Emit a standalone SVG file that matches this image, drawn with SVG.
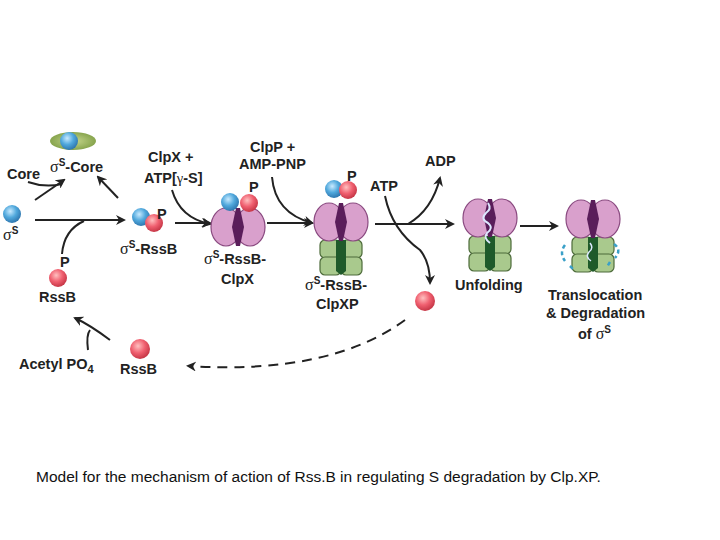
<svg xmlns="http://www.w3.org/2000/svg" width="720" height="540" viewBox="0 0 720 540">
<style>
.t{font-family:"Liberation Sans",Arial,sans-serif;font-weight:bold;font-size:14.5px;fill:#222}
.g{font-family:"Liberation Serif","DejaVu Serif",serif;font-weight:normal}
.ln{fill:none;stroke:#222;stroke-width:2}
.pink{fill:#d9a0cc;stroke:#8a4a80;stroke-width:1.2}
.green{fill:#a9c98d;stroke:#4d6b3a;stroke-width:1.2}
.dark{fill:#5a1d5a}
.dg{fill:#1f5a2a}
</style>
<defs>
<radialGradient id="red" cx="0.4" cy="0.35" r="0.7"><stop offset="0" stop-color="#ffc0c0"/><stop offset="0.5" stop-color="#f06070"/><stop offset="1" stop-color="#c03040"/></radialGradient>
<radialGradient id="blue" cx="0.4" cy="0.35" r="0.7"><stop offset="0" stop-color="#c8eaff"/><stop offset="0.5" stop-color="#50a8dc"/><stop offset="1" stop-color="#2a6fa8"/></radialGradient>
<radialGradient id="ell" cx="0.5" cy="0.5" r="0.6"><stop offset="0" stop-color="#c8d890"/><stop offset="1" stop-color="#7a9a40"/></radialGradient>
<marker id="a" viewBox="0 0 10 10" refX="8" refY="5" markerWidth="5" markerHeight="5" orient="auto"><path d="M0,0 L10,5 L0,10 L3,5 z" fill="#222"/></marker>
<g id="clpx">
<ellipse class="pink" cx="-12" cy="0" rx="15" ry="19"/>
<ellipse class="pink" cx="12" cy="0" rx="15" ry="19"/>
<path class="dark" d="M-2,-19 L2,-19 L6,0 L2,19 L-2,19 L-6,0 z"/>
</g>
<g id="clpp">
<rect class="green" x="-21" y="0" width="21" height="18" rx="5"/>
<rect class="green" x="0" y="0" width="21" height="18" rx="5"/>
<rect class="green" x="-21" y="17" width="21" height="18" rx="5"/>
<rect class="green" x="0" y="17" width="21" height="18" rx="5"/>
<path class="dg" d="M-5,0 L5,0 L5,31 L0,35 L-5,31 z"/>
</g>
</defs>
<rect width="720" height="540" fill="#fff"/>

<g id="connectors">
<path class="ln" d="M28,182 Q45,188 62,184"/>
<path class="ln" marker-end="url(#a)" d="M35,200 L64,180"/>
<path class="ln" marker-end="url(#a)" d="M118,198 L98,177"/>
<path class="ln" marker-end="url(#a)" d="M35,220 L124,220"/>
<path class="ln" d="M62,254 Q64,230 84,221"/>
<path class="ln" marker-end="url(#a)" d="M172,190 Q180,218 210,224"/>
<path class="ln" marker-end="url(#a)" d="M175,223 L210,223"/>
<path class="ln" marker-end="url(#a)" d="M272,177 Q275,213 312,223"/>
<path class="ln" marker-end="url(#a)" d="M267,223 L312,223"/>
<path class="ln" marker-end="url(#a)" d="M375,224 L453,224"/>
<path class="ln" marker-end="url(#a)" d="M385,196 Q392,230 420,250 Q430,262 430,283"/>
<path class="ln" marker-end="url(#a)" d="M408,224 Q432,210 440,178"/>
<path class="ln" marker-end="url(#a)" d="M520,226 L557,226"/>
<path class="ln" stroke-dasharray="10,7" stroke-width="1.6" marker-end="url(#a)" d="M405,320 Q330,375 188,366"/>
<path class="ln" marker-end="url(#a)" d="M110,340 Q90,325 75,318"/>
<path class="ln" d="M88,350 Q86,335 90,330"/>
</g>

<g id="sigma-core">
<ellipse cx="73" cy="141" rx="23" ry="9" fill="url(#ell)"/>
<circle cx="69" cy="141" r="9" fill="url(#blue)"/>
<text class="t" x="50" y="172"><tspan class="g" font-size="16">σ</tspan><tspan font-size="10" dy="-6">S</tspan><tspan dy="6">-Core</tspan></text>
<text class="t" x="7" y="179">Core</text>
</g>
<g id="sigma">
<circle cx="12" cy="214" r="9" fill="url(#blue)"/>
<text class="t" x="3" y="240"><tspan class="g" font-size="16">σ</tspan><tspan font-size="10" dy="-6">S</tspan></text>
</g>
<g id="rssb-p">
<circle cx="58" cy="278" r="9" fill="url(#red)"/>
<text class="t" x="60" y="267">P</text>
<text class="t" x="39" y="302">RssB</text>
</g>
<g id="sigma-rssb">
<circle cx="141" cy="217" r="9" fill="url(#blue)"/>
<circle cx="154" cy="223" r="9" fill="url(#red)"/>
<text class="t" x="157" y="219">P</text>
<text class="t" x="120" y="254"><tspan class="g" font-size="16">σ</tspan><tspan font-size="10" dy="-6">S</tspan><tspan dy="6">-RssB</tspan></text>
</g>
<g id="clpx-label">
<text class="t" x="148" y="162">ClpX +</text>
<text class="t" x="144" y="183">ATP[<tspan class="g">γ</tspan>-S]</text>
</g>
<g id="sigma-rssb-clpx">
<use href="#clpx" x="238" y="227"/>
<circle cx="230" cy="202" r="9" fill="url(#blue)"/>
<circle cx="249" cy="203" r="9" fill="url(#red)"/>
<text class="t" x="249" y="192">P</text>
<text class="t" x="204" y="264"><tspan class="g" font-size="16">σ</tspan><tspan font-size="10" dy="-6">S</tspan><tspan dy="6">-RssB-</tspan></text>
<text class="t" x="221" y="284">ClpX</text>
</g>
<g id="clpp-label">
<text class="t" x="250" y="152">ClpP +</text>
<text class="t" x="239" y="169">AMP-PNP</text>
</g>
<g id="sigma-rssb-clpxp">
<use href="#clpp" x="341" y="240"/>
<use href="#clpx" x="341" y="222"/>
<circle cx="334" cy="189" r="9" fill="url(#blue)"/>
<circle cx="348" cy="190" r="9" fill="url(#red)"/>
<text class="t" x="347" y="181">P</text>
<text class="t" x="305" y="290"><tspan class="g" font-size="16">σ</tspan><tspan font-size="10" dy="-6">S</tspan><tspan dy="6">-RssB-</tspan></text>
<text class="t" x="316" y="309">ClpXP</text>
</g>
<g id="atp"><text class="t" x="370" y="191">ATP</text></g>
<g id="adp"><text class="t" x="425" y="166">ADP</text></g>
<g id="rssb-free"><circle cx="425" cy="301" r="10" fill="url(#red)"/></g>
<g id="unfolding">
<use href="#clpp" x="490" y="236"/>
<use href="#clpx" x="490" y="218"/>
<path d="M488,203 q4,6 -2,10 q-6,6 2,10 q6,5 -1,10 q-4,5 3,10" fill="none" stroke="#dde8ff" stroke-width="2"/>
<text class="t" x="455" y="290">Unfolding</text>
</g>
<g id="degradation">
<use href="#clpp" x="593" y="237"/>
<use href="#clpx" x="593" y="219"/>
<path d="M590,243 q4,5 -1,9 q-4,5 2,9" fill="none" stroke="#dde8ff" stroke-width="1.5"/>
<path d="M565,245 q-6,8 0,16 M614,244 q8,6 1,14 M570,266 l4,4 M610,262 l-3,5" fill="none" stroke="#3aa0c8" stroke-width="2.5" stroke-dasharray="4,3"/>
<text class="t" x="548" y="300">Translocation</text>
<text class="t" x="546" y="318">&amp; Degradation</text>
<text class="t" x="578" y="339">of <tspan class="g" font-size="16">σ</tspan><tspan font-size="10" dy="-6">S</tspan></text>
</g>
<g id="rssb-bottom">
<circle cx="140" cy="349" r="10" fill="url(#red)"/>
<text class="t" x="120" y="374">RssB</text>
</g>
<g id="acetyl"><text class="t" x="19" y="369">Acetyl PO<tspan font-size="11" dy="4">4</tspan></text></g>
<text x="36" y="482" font-family="Liberation Sans, Arial, sans-serif" font-size="15.5" fill="#111">Model for the mechanism of action of Rss.B in regulating S degradation by Clp.XP.</text>
</svg>
